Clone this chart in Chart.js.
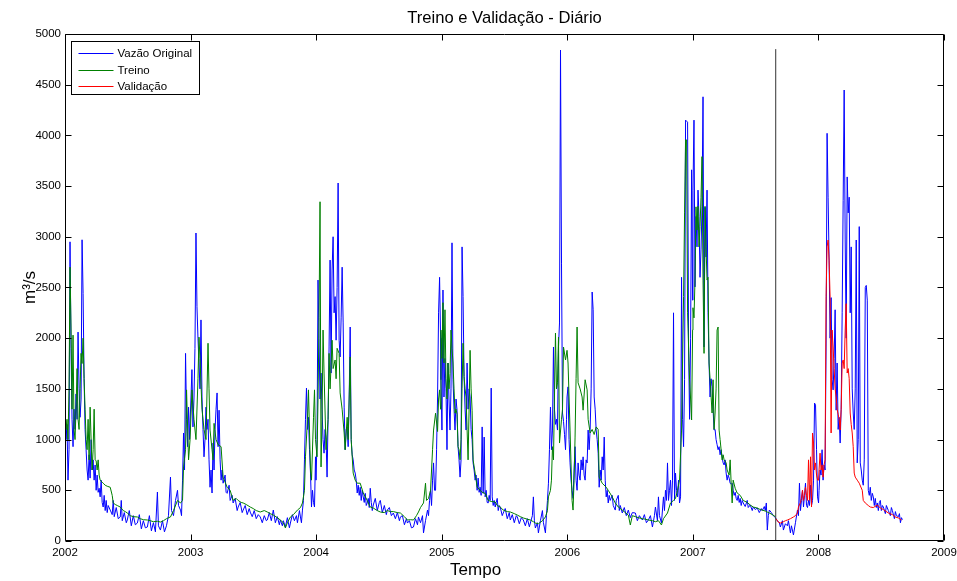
<!DOCTYPE html>
<html><head><meta charset="utf-8">
<script src="https://cdn.jsdelivr.net/npm/chart.js@4.4.1/dist/chart.umd.min.js"></script>
<style>html,body{margin:0;padding:0;background:#fff}canvas{display:block}</style>
</head><body>
<canvas id="c" width="957" height="581"></canvas>
<script>
// ---- data: [year, m3/s] ----
const vazaoOriginal = [
[2002.000,1260],[2002.008,1000],[2002.016,1150],[2002.024,600],[2002.032,900],[2002.040,2950],[2002.048,1900],[2002.056,1200],[2002.064,930],[2002.072,1300],[2002.080,1100],[2002.088,1450],[2002.096,1200],[2002.104,2060],[2002.112,1500],[2002.120,1220],[2002.128,1400],[2002.136,2970],[2002.144,2440],[2002.152,1600],[2002.160,1100],[2002.168,900],[2002.176,700],[2002.184,600],[2002.192,850],[2002.200,620],[2002.208,1000],[2002.216,700],[2002.224,800],[2002.232,600],[2002.240,750],[2002.248,500],[2002.256,650],[2002.264,480],[2002.272,520],[2002.280,435],[2002.288,600],[2002.296,380],[2002.304,335],[2002.312,450],[2002.320,300],[2002.328,400],[2002.336,280],[2002.344,350],[2002.360,305],[2002.376,260],[2002.384,400],[2002.392,240],[2002.408,330],[2002.424,220],[2002.440,237],[2002.448,400],[2002.456,200],[2002.472,280],[2002.488,180],[2002.496,207],[2002.512,300],[2002.528,150],[2002.544,250],[2002.560,160],[2002.576,177],[2002.592,260],[2002.608,120],[2002.624,200],[2002.640,130],[2002.656,138],[2002.672,250],[2002.688,100],[2002.704,180],[2002.720,90],[2002.736,483],[2002.744,150],[2002.760,108],[2002.776,200],[2002.792,90],[2002.808,150],[2002.824,250],[2002.840,630],[2002.848,300],[2002.864,250],[2002.880,400],[2002.896,500],[2002.904,350],[2002.920,305],[2002.928,250],[2002.936,600],[2002.944,1065],[2002.952,700],[2002.960,1850],[2002.968,1200],[2002.976,930],[2002.984,1320],[2002.992,1000],[2002.996,1160],
[2003.011,1690],[2003.019,1125],[2003.027,1400],[2003.035,1900],[2003.043,3037],[2003.051,2310],[2003.059,2000],[2003.067,1755],[2003.075,1500],[2003.083,2180],[2003.091,1420],[2003.099,1100],[2003.107,830],[2003.115,1000],[2003.123,1320],[2003.131,1100],[2003.139,1200],[2003.147,800],[2003.155,530],[2003.163,700],[2003.171,473],[2003.179,966],[2003.187,700],[2003.195,1100],[2003.203,1300],[2003.211,1460],[2003.219,930],[2003.227,1290],[2003.235,800],[2003.243,600],[2003.251,700],[2003.259,570],[2003.275,650],[2003.283,480],[2003.291,470],[2003.307,550],[2003.315,400],[2003.331,450],[2003.339,375],[2003.355,420],[2003.371,300],[2003.379,335],[2003.395,380],[2003.411,280],[2003.419,305],[2003.435,350],[2003.451,260],[2003.467,320],[2003.475,285],[2003.491,240],[2003.507,300],[2003.523,220],[2003.539,260],[2003.555,237],[2003.571,180],[2003.587,250],[2003.603,200],[2003.611,207],[2003.627,280],[2003.643,200],[2003.659,305],[2003.675,180],[2003.691,240],[2003.707,160],[2003.715,207],[2003.731,150],[2003.739,200],[2003.755,138],[2003.771,230],[2003.787,130],[2003.795,177],[2003.811,260],[2003.827,200],[2003.843,250],[2003.851,180],[2003.867,300],[2003.875,237],[2003.883,180],[2003.891,305],[2003.899,400],[2003.907,800],[2003.915,1200],[2003.923,1508],[2003.931,1100],[2003.939,1220],[2003.947,900],[2003.955,670],[2003.963,335],[2003.971,500],[2003.979,380],[2003.987,335],[2003.995,830],[2003.999,600],
[2004.007,1000],[2004.015,2573],[2004.023,2000],[2004.031,1400],[2004.039,1656],[2004.047,1300],[2004.055,1000],[2004.063,866],[2004.071,1100],[2004.079,1000],[2004.087,630],[2004.095,1200],[2004.103,1913],[2004.111,2770],[2004.119,1656],[2004.127,2672],[2004.135,3000],[2004.143,2250],[2004.151,2410],[2004.159,1980],[2004.167,2500],[2004.175,3530],[2004.183,1980],[2004.191,1815],[2004.199,2200],[2004.207,2700],[2004.215,2150],[2004.223,1320],[2004.231,900],[2004.239,1100],[2004.247,1125],[2004.255,930],[2004.263,1400],[2004.271,2110],[2004.279,1000],[2004.287,850],[2004.295,800],[2004.303,700],[2004.311,670],[2004.319,600],[2004.327,473],[2004.335,550],[2004.343,450],[2004.351,530],[2004.359,400],[2004.367,500],[2004.375,435],[2004.383,380],[2004.391,470],[2004.399,350],[2004.407,375],[2004.415,420],[2004.423,330],[2004.431,520],[2004.439,380],[2004.447,300],[2004.455,355],[2004.471,420],[2004.487,300],[2004.503,380],[2004.511,400],[2004.527,280],[2004.543,350],[2004.559,260],[2004.567,305],[2004.583,330],[2004.599,250],[2004.615,276],[2004.631,220],[2004.647,280],[2004.663,200],[2004.671,237],[2004.687,250],[2004.703,160],[2004.719,220],[2004.727,177],[2004.743,200],[2004.759,130],[2004.775,138],[2004.791,220],[2004.807,160],[2004.815,237],[2004.831,180],[2004.847,250],[2004.855,80],[2004.871,200],[2004.887,305],[2004.895,250],[2004.903,400],[2004.911,500],[2004.919,350],[2004.927,600],[2004.935,770],[2004.943,500],[2004.951,500],[2004.959,900],[2004.967,1420],[2004.975,2250],[2004.983,2600],[2004.991,2000],
[2004.994,1590],[2005.002,1094],[2005.010,2475],[2005.018,1420],[2005.026,1800],[2005.034,1500],[2005.042,900],[2005.050,1755],[2005.058,1400],[2005.066,1094],[2005.074,1500],[2005.082,2940],[2005.090,1590],[2005.098,1300],[2005.106,1094],[2005.114,1400],[2005.122,1290],[2005.130,930],[2005.138,800],[2005.146,630],[2005.154,800],[2005.162,2900],[2005.170,2410],[2005.178,1620],[2005.186,1300],[2005.194,1094],[2005.202,1755],[2005.210,1300],[2005.218,1500],[2005.226,1420],[2005.234,1100],[2005.242,1000],[2005.250,770],[2005.258,700],[2005.266,600],[2005.274,650],[2005.282,500],[2005.290,620],[2005.298,480],[2005.306,530],[2005.314,450],[2005.322,1125],[2005.330,470],[2005.338,1025],[2005.346,435],[2005.354,500],[2005.362,380],[2005.370,375],[2005.378,450],[2005.386,400],[2005.394,1508],[2005.402,435],[2005.410,350],[2005.418,400],[2005.426,335],[2005.434,380],[2005.442,420],[2005.450,300],[2005.458,350],[2005.466,335],[2005.482,250],[2005.490,276],[2005.506,320],[2005.522,220],[2005.538,280],[2005.546,207],[2005.562,260],[2005.578,180],[2005.594,250],[2005.602,237],[2005.618,170],[2005.634,230],[2005.650,207],[2005.666,150],[2005.682,220],[2005.698,140],[2005.706,177],[2005.722,250],[2005.730,435],[2005.738,200],[2005.746,128],[2005.762,180],[2005.770,80],[2005.786,200],[2005.802,300],[2005.810,180],[2005.826,80],[2005.834,250],[2005.842,400],[2005.850,570],[2005.858,900],[2005.866,1320],[2005.874,900],[2005.882,1094],[2005.890,1913],[2005.898,1300],[2005.906,1150],[2005.914,1200],[2005.922,1094],[2005.930,1913],[2005.938,2150],[2005.946,4841],[2005.954,2740],[2005.962,1262],[2005.970,1180],[2005.978,1050],[2005.986,900],[2005.994,1200],
[2005.998,1420],[2006.006,1520],[2006.014,1000],[2006.022,770],[2006.030,600],[2006.038,500],[2006.046,420],[2006.054,700],[2006.062,930],[2006.070,600],[2006.078,500],[2006.086,770],[2006.094,650],[2006.102,600],[2006.110,800],[2006.118,700],[2006.126,830],[2006.134,650],[2006.142,600],[2006.150,800],[2006.158,770],[2006.166,1094],[2006.174,900],[2006.182,1100],[2006.190,1500],[2006.198,2455],[2006.206,2280],[2006.214,1420],[2006.222,1300],[2006.230,1094],[2006.238,1000],[2006.246,866],[2006.254,530],[2006.262,700],[2006.270,600],[2006.278,830],[2006.286,700],[2006.294,1025],[2006.302,600],[2006.310,435],[2006.318,500],[2006.326,375],[2006.334,450],[2006.342,400],[2006.358,450],[2006.366,350],[2006.382,305],[2006.390,400],[2006.406,450],[2006.414,300],[2006.422,350],[2006.438,276],[2006.454,330],[2006.470,250],[2006.486,305],[2006.502,230],[2006.518,280],[2006.542,276],[2006.558,200],[2006.574,250],[2006.598,207],[2006.614,260],[2006.630,180],[2006.646,207],[2006.662,250],[2006.678,138],[2006.694,250],[2006.702,335],[2006.718,200],[2006.726,435],[2006.734,250],[2006.750,177],[2006.766,435],[2006.774,300],[2006.782,500],[2006.790,400],[2006.798,770],[2006.806,400],[2006.814,500],[2006.822,600],[2006.830,350],[2006.838,600],[2006.846,2250],[2006.854,400],[2006.862,670],[2006.870,500],[2006.878,435],[2006.886,600],[2006.894,375],[2006.902,435],[2006.910,2600],[2006.918,1200],[2006.926,930],[2006.934,1590],[2006.942,4150],[2006.950,4140],[2006.958,4130],[2006.966,1913],[2006.974,1200],[2006.982,2000],[2006.990,3660],[2006.998,2375],
[2007.001,3460],[2007.009,4150],[2007.017,2505],[2007.025,3200],[2007.033,2900],[2007.041,3460],[2007.049,3200],[2007.057,2600],[2007.065,2870],[2007.073,3300],[2007.081,4380],[2007.089,1913],[2007.097,3290],[2007.105,2800],[2007.113,3460],[2007.121,2250],[2007.129,1755],[2007.137,1420],[2007.145,1600],[2007.153,1520],[2007.161,1300],[2007.169,1094],[2007.177,1100],[2007.185,1000],[2007.193,950],[2007.201,900],[2007.209,930],[2007.217,850],[2007.225,900],[2007.233,830],[2007.241,770],[2007.249,750],[2007.257,800],[2007.265,670],[2007.273,600],[2007.281,650],[2007.289,620],[2007.297,570],[2007.305,560],[2007.313,570],[2007.321,500],[2007.329,450],[2007.337,480],[2007.345,420],[2007.353,400],[2007.361,450],[2007.369,380],[2007.377,420],[2007.385,350],[2007.393,400],[2007.401,375],[2007.417,340],[2007.433,400],[2007.441,330],[2007.457,355],[2007.473,300],[2007.481,335],[2007.497,310],[2007.513,325],[2007.529,280],[2007.545,320],[2007.553,300],[2007.569,340],[2007.577,300],[2007.585,375],[2007.593,108],[2007.601,250],[2007.609,305],[2007.625,280],[2007.641,250],[2007.657,230],[2007.673,200],[2007.689,180],[2007.697,138],[2007.713,200],[2007.721,108],[2007.737,170],[2007.753,150],[2007.761,200],[2007.777,80],[2007.785,150],[2007.801,60],[2007.817,180],[2007.833,305],[2007.841,250],[2007.849,570],[2007.857,300],[2007.865,400],[2007.873,500],[2007.881,335],[2007.889,450],[2007.897,570],[2007.905,350],[2007.913,330],[2007.921,400],[2007.929,350],[2007.937,550],[2007.945,350],[2007.953,400],[2007.961,600],[2007.969,1360],[2007.977,1340],[2007.985,900],[2007.993,435],[2008.001,375],
[2008.005,500],[2008.013,700],[2008.021,650],[2008.029,900],[2008.037,600],[2008.045,750],[2008.053,700],[2008.061,1913],[2008.069,4020],[2008.077,3390],[2008.085,2770],[2008.093,2000],[2008.101,2400],[2008.109,1590],[2008.117,1490],[2008.125,1800],[2008.133,2280],[2008.141,1290],[2008.149,1755],[2008.157,1100],[2008.165,1220],[2008.173,966],[2008.181,1300],[2008.189,2250],[2008.197,3360],[2008.205,4447],[2008.213,2968],[2008.221,2000],[2008.229,3590],[2008.237,3235],[2008.245,3390],[2008.253,2250],[2008.261,2900],[2008.269,1500],[2008.277,1262],[2008.285,1100],[2008.293,1500],[2008.301,2968],[2008.309,770],[2008.317,1000],[2008.325,3100],[2008.333,770],[2008.341,700],[2008.349,600],[2008.357,550],[2008.365,800],[2008.373,2500],[2008.381,2520],[2008.389,2375],[2008.397,500],[2008.405,450],[2008.413,530],[2008.421,400],[2008.429,470],[2008.437,435],[2008.445,350],[2008.453,420],[2008.461,330],[2008.469,375],[2008.477,300],[2008.485,380],[2008.493,400],[2008.501,300],[2008.509,350],[2008.517,335],[2008.533,270],[2008.541,350],[2008.557,300],[2008.573,250],[2008.581,330],[2008.589,300],[2008.605,220],[2008.613,290],[2008.621,250],[2008.637,240],[2008.645,270],[2008.653,180],[2008.661,230],[2008.669,210]
];

const treino = [
[2002.000,1300],[2002.008,1100],[2002.016,1200],[2002.024,1000],[2002.032,1500],[2002.040,2700],[2002.048,2100],[2002.056,1300],[2002.064,2030],[2002.072,1100],[2002.080,1000],[2002.088,1300],[2002.096,1700],[2002.104,1200],[2002.112,1100],[2002.120,1500],[2002.128,1850],[2002.136,1750],[2002.144,2000],[2002.152,1600],[2002.160,1300],[2002.168,1000],[2002.176,900],[2002.184,1200],[2002.192,800],[2002.200,1320],[2002.208,1000],[2002.216,700],[2002.224,900],[2002.232,1300],[2002.240,800],[2002.248,790],[2002.256,700],[2002.264,800],[2002.272,650],[2002.280,600],[2002.296,580],[2002.304,570],[2002.320,550],[2002.336,540],[2002.360,530],[2002.376,450],[2002.384,375],[2002.400,360],[2002.416,350],[2002.440,335],[2002.464,300],[2002.480,290],[2002.496,276],[2002.520,250],[2002.544,240],[2002.576,237],[2002.600,220],[2002.624,210],[2002.656,207],[2002.680,200],[2002.704,190],[2002.736,195],[2002.760,187],[2002.784,200],[2002.808,220],[2002.840,237],[2002.864,300],[2002.896,400],[2002.920,375],[2002.936,400],[2002.944,730],[2002.960,900],[2002.968,1490],[2002.984,800],[2002.996,1000],
[2003.011,1490],[2003.027,1200],[2003.043,1000],[2003.059,1600],[2003.067,2010],[2003.075,1800],[2003.091,1300],[2003.107,1100],[2003.123,1000],[2003.139,1950],[2003.147,1500],[2003.155,1094],[2003.171,900],[2003.179,800],[2003.187,1160],[2003.203,1000],[2003.219,950],[2003.243,930],[2003.259,630],[2003.275,580],[2003.291,530],[2003.315,500],[2003.339,400],[2003.363,420],[2003.379,400],[2003.403,380],[2003.419,375],[2003.443,360],[2003.475,335],[2003.499,320],[2003.523,300],[2003.555,286],[2003.587,300],[2003.611,286],[2003.635,270],[2003.659,256],[2003.691,230],[2003.715,207],[2003.739,180],[2003.755,128],[2003.771,180],[2003.795,237],[2003.819,260],[2003.851,305],[2003.875,330],[2003.891,375],[2003.907,500],[2003.915,830],[2003.931,1200],[2003.939,1490],[2003.955,700],[2003.963,600],[2003.979,1220],[2003.987,1490],[2003.995,1000],
[2004.007,830],[2004.015,1400],[2004.023,2200],[2004.031,3345],[2004.039,730],[2004.047,1200],[2004.055,2080],[2004.063,1656],[2004.079,900],[2004.095,1200],[2004.103,1850],[2004.111,1500],[2004.127,1980],[2004.135,1700],[2004.151,1785],[2004.159,1600],[2004.167,1900],[2004.183,1850],[2004.191,1460],[2004.207,1300],[2004.223,1065],[2004.231,900],[2004.247,1220],[2004.255,1000],[2004.271,1815],[2004.279,1000],[2004.295,670],[2004.311,600],[2004.327,570],[2004.351,570],[2004.375,473],[2004.407,400],[2004.431,335],[2004.455,325],[2004.487,300],[2004.511,286],[2004.543,280],[2004.567,300],[2004.591,290],[2004.615,290],[2004.647,280],[2004.671,276],[2004.703,240],[2004.727,207],[2004.751,210],[2004.775,207],[2004.799,250],[2004.815,286],[2004.831,330],[2004.855,375],[2004.871,570],[2004.879,400],[2004.895,420],[2004.911,500],[2004.927,900],[2004.935,1094],[2004.951,1260],[2004.967,1080],[2004.975,1400],[2004.983,1490],[2004.991,1300],
[2004.994,2080],[2005.002,1800],[2005.010,2350],[2005.018,1755],[2005.026,2280],[2005.034,1600],[2005.042,1400],[2005.050,1755],[2005.058,1500],[2005.066,1650],[2005.074,2080],[2005.082,1900],[2005.090,1755],[2005.098,1500],[2005.106,1260],[2005.114,1300],[2005.122,1250],[2005.130,930],[2005.138,900],[2005.146,800],[2005.154,1000],[2005.162,1500],[2005.170,1950],[2005.178,1620],[2005.186,1500],[2005.194,1420],[2005.202,1100],[2005.210,800],[2005.218,1300],[2005.226,1880],[2005.234,1500],[2005.242,1290],[2005.250,800],[2005.266,670],[2005.282,530],[2005.306,500],[2005.322,480],[2005.346,470],[2005.370,400],[2005.394,390],[2005.426,385],[2005.442,350],[2005.466,335],[2005.490,305],[2005.522,290],[2005.546,286],[2005.578,270],[2005.602,256],[2005.626,240],[2005.650,227],[2005.682,215],[2005.706,207],[2005.730,190],[2005.746,177],[2005.770,170],[2005.802,200],[2005.826,237],[2005.842,300],[2005.850,435],[2005.866,500],[2005.874,600],[2005.882,930],[2005.890,800],[2005.906,2050],[2005.914,1500],[2005.922,1560],[2005.930,2010],[2005.938,966],[2005.954,1200],[2005.962,1300],[2005.970,1913],[2005.986,1785],
[2005.998,1880],[2006.006,1755],[2006.022,1094],[2006.038,400],[2006.046,305],[2006.054,600],[2006.062,1025],[2006.070,1600],[2006.078,2110],[2006.086,1560],[2006.102,1500],[2006.118,1420],[2006.126,1290],[2006.142,1590],[2006.158,1490],[2006.166,1200],[2006.182,1065],[2006.198,1100],[2006.214,1050],[2006.230,1125],[2006.246,1100],[2006.254,630],[2006.278,570],[2006.310,530],[2006.326,500],[2006.358,435],[2006.382,375],[2006.406,335],[2006.438,305],[2006.462,280],[2006.486,256],[2006.502,158],[2006.518,250],[2006.542,240],[2006.566,230],[2006.598,220],[2006.622,215],[2006.646,207],[2006.678,200],[2006.702,190],[2006.726,200],[2006.750,158],[2006.766,220],[2006.798,276],[2006.822,375],[2006.846,400],[2006.862,420],[2006.878,500],[2006.894,600],[2006.910,1094],[2006.926,2410],[2006.934,3235],[2006.942,3955],[2006.950,3955],[2006.958,2250],[2006.966,1913],[2006.974,1590],[2006.982,1400],[2006.990,1193],[2006.998,2080],
[2007.001,2300],[2007.009,2200],[2007.017,2573],[2007.025,3295],[2007.033,3066],[2007.041,3300],[2007.049,2900],[2007.057,3100],[2007.065,3390],[2007.073,3790],[2007.081,2573],[2007.089,1850],[2007.097,3300],[2007.105,2900],[2007.113,2573],[2007.121,2600],[2007.129,1755],[2007.137,1600],[2007.153,1262],[2007.161,1590],[2007.169,1100],[2007.177,1262],[2007.185,1500],[2007.193,2080],[2007.201,2110],[2007.209,1094],[2007.217,1000],[2007.233,800],[2007.241,850],[2007.249,800],[2007.265,770],[2007.273,700],[2007.289,650],[2007.297,800],[2007.305,570],[2007.313,375],[2007.321,600],[2007.337,520],[2007.353,473],[2007.377,450],[2007.401,400],[2007.433,380],[2007.457,355],[2007.481,335],[2007.513,325],[2007.537,310],[2007.553,305],[2007.577,295],[2007.593,285],[2007.609,276],[2007.633,260],[2007.657,240]
];

const validacao = [
[2007.662,220],[2007.681,185],[2007.697,177],[2007.721,190],[2007.737,200],[2007.753,207],[2007.777,220],[2007.801,237],[2007.817,250],[2007.833,276],[2007.841,335],[2007.857,380],[2007.865,420],[2007.873,500],[2007.881,400],[2007.889,450],[2007.897,530],[2007.905,450],[2007.913,400],[2007.921,800],[2007.929,400],[2007.937,830],[2007.945,335],[2007.953,1065],[2007.961,966],[2007.969,700],[2007.977,770],[2007.985,650],[2007.993,600],[2008.001,600],[2008.005,700],[2008.013,866],[2008.021,700],[2008.029,750],[2008.037,630],[2008.045,750],[2008.053,800],[2008.061,2410],[2008.069,2900],[2008.077,2968],[2008.085,2770],[2008.093,2400],[2008.101,1065],[2008.109,2080],[2008.117,1913],[2008.125,1700],[2008.133,1500],[2008.141,1420],[2008.149,1300],[2008.157,1250],[2008.165,1200],[2008.173,1094],[2008.181,1300],[2008.189,1755],[2008.197,1785],[2008.205,1700],[2008.213,2080],[2008.221,2340],[2008.229,1656],[2008.237,1700],[2008.245,1600],[2008.253,1262],[2008.261,1150],[2008.269,1065],[2008.277,930],[2008.285,670],[2008.293,630],[2008.309,600],[2008.325,570],[2008.349,500],[2008.357,400],[2008.373,375],[2008.397,350],[2008.413,335],[2008.437,330],[2008.469,355],[2008.493,325],[2008.517,310],[2008.557,276],[2008.589,260],[2008.613,237],[2008.637,227],[2008.661,207]
];

const splitYear = 2007.66;     // fim do treino
const splitTop = 4850;         // altura da linha divisória
const xTicks = [2002,2003,2004,2005,2006,2007,2008,2009];
const yTicks = [0,500,1000,1500,2000,2500,3000,3500,4000,4500,5000];
const seriesLabels = ['Vazão Original','Treino','Validação'];
const xAxisTitle = 'Tempo';

const toXY = arr => arr.map(p => ({x: p[0], y: p[1]}));
const FONT = "'Liberation Sans', Arial, sans-serif";

const framePlugin = {
  id: 'frame',
  afterDatasetsDraw(chart) {
    const {ctx, chartArea: a, scales: {x, y}} = chart;
    ctx.save();
    ctx.strokeStyle = '#000';
    ctx.lineWidth = 1;
    const L = Math.round(a.left) + 0.5, R = Math.round(a.right) - 0.5;
    const T = Math.round(a.top) + 0.5, B = Math.round(a.bottom) - 0.5;
    ctx.beginPath();
    ctx.rect(L, T, R - L, B - T);
    const tl = 6;
    x.ticks.forEach(t => {
      const px = Math.round(x.getPixelForValue(t.value)) + 0.5;
      ctx.moveTo(px, B); ctx.lineTo(px, B - tl);
      ctx.moveTo(px, T); ctx.lineTo(px, T + tl);
    });
    y.ticks.forEach(t => {
      const py = Math.round(y.getPixelForValue(t.value)) + 0.5;
      ctx.moveTo(L, py); ctx.lineTo(L + tl, py);
      ctx.moveTo(R, py); ctx.lineTo(R - tl, py);
    });
    ctx.stroke();
    ctx.restore();
  },
  afterDraw(chart) {
    const {ctx, chartArea: a, scales: {x}} = chart;
    // x-axis label (placed as in the original figure, slightly left of centre)
    ctx.save();
    ctx.fillStyle = '#000';
    ctx.font = '17px ' + FONT;
    ctx.textAlign = 'center';
    ctx.textBaseline = 'middle';
    ctx.fillText(xAxisTitle, x.getPixelForValue(2005.27), 570);
    ctx.restore();
    // legend
    const bx = Math.round(a.left) + 6.5, by = Math.round(a.top) + 7.5, bw = 128, bh = 53;
    ctx.save();
    ctx.fillStyle = '#fff';
    ctx.fillRect(bx, by, bw, bh);
    ctx.strokeStyle = '#000';
    ctx.lineWidth = 1;
    ctx.strokeRect(bx, by, bw, bh);
    ctx.font = '11.5px ' + FONT;
    ctx.textBaseline = 'middle';
    ctx.textAlign = 'left';
    const rows = [11, 28, 44];
    chart.data.datasets.slice(0, 3).forEach((ds, i) => {
      const yy = Math.round(by + rows[i]) + 0.5;
      ctx.strokeStyle = ds.borderColor;
      ctx.beginPath();
      ctx.moveTo(bx + 7, yy); ctx.lineTo(bx + 42, yy);
      ctx.stroke();
      ctx.fillStyle = '#000';
      ctx.fillText(ds.label, bx + 46, yy);
    });
    ctx.restore();
  }
};

new Chart(document.getElementById('c'), {
  type: 'line',
  data: {
    datasets: [
      {label: seriesLabels[0], data: toXY(vazaoOriginal), borderColor: '#0000ff', borderWidth: 1, pointRadius: 0, tension: 0, order: 3},
      {label: seriesLabels[1], data: toXY(treino), borderColor: '#008000', borderWidth: 1, pointRadius: 0, tension: 0, order: 2},
      {label: seriesLabels[2], data: toXY(validacao), borderColor: '#ff0000', borderWidth: 1, pointRadius: 0, tension: 0, order: 1},
      {label: 'divisão', data: [{x: splitYear, y: 0}, {x: splitYear, y: splitTop}], borderColor: '#333333', borderWidth: 1, pointRadius: 0, order: 0}
    ]
  },
  options: {
    responsive: false,
    animation: false,
    devicePixelRatio: 1,
    layout: {padding: {left: 0, right: 13, top: 0, bottom: 0}},
    plugins: {
      legend: {display: false},
      tooltip: {enabled: false},
      title: {
        display: true,
        text: 'Treino e Validação - Diário',
        fullSize: false,
        color: '#000',
        font: {family: FONT, size: 16.6, weight: 'normal'},
        padding: {top: 8, bottom: 6}
      }
    },
    scales: {
      x: {
        type: 'linear', min: 2002, max: 2009,
        afterBuildTicks: s => { s.ticks = xTicks.map(v => ({value: v})); },
        ticks: {color: '#000', font: {family: FONT, size: 11.5}, padding: 5, maxRotation: 0, autoSkip: false, callback: v => String(v)},
        grid: {display: false, drawTicks: false},
        border: {display: false},
        title: {display: false, text: xAxisTitle},
        afterFit: s => { s.height = 40; s.paddingLeft = 0; s.paddingRight = 0; }
      },
      y: {
        type: 'linear', min: 0, max: 5000,
        afterBuildTicks: s => { s.ticks = yTicks.map(v => ({value: v})); },
        ticks: {color: '#000', font: {family: FONT, size: 11.5}, padding: 4, autoSkip: false, callback: v => String(v)},
        grid: {display: false, drawTicks: false},
        border: {display: false},
        title: {display: true, text: 'm³/s', color: '#000', font: {family: FONT, size: 17}, padding: {top: 20, bottom: 0}},
        afterFit: s => { s.width = 65; s.paddingTop = 0; s.paddingBottom = 0; }
      }
    }
  },
  plugins: [framePlugin]
});
</script>
</body></html>
